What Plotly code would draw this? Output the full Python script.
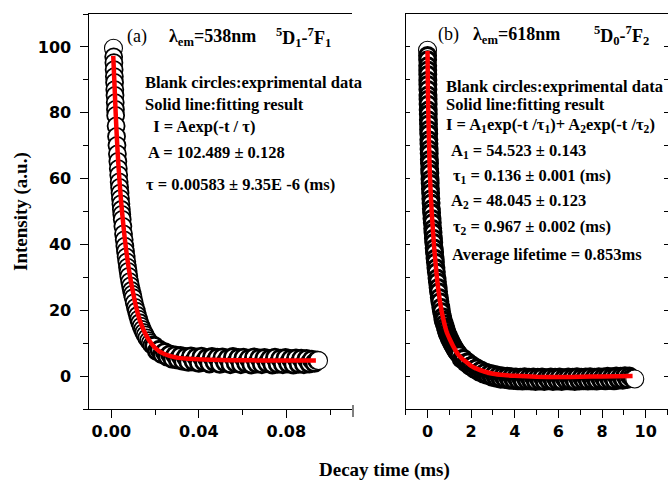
import plotly.graph_objects as go

# ---------------- data: panel (a) 538 nm ----------------
t_a = [0.0010, 0.0011, 0.0012, 0.0013, 0.0014, 0.0015, 0.0016, 0.0017, 0.0018, 0.0019,
       0.0020, 0.0022, 0.0024, 0.0026, 0.0028, 0.0030, 0.0032, 0.0034, 0.0036, 0.0038,
       0.0040, 0.0042, 0.0044, 0.0046, 0.0048, 0.0050, 0.0053, 0.0056, 0.0059, 0.0062,
       0.0065, 0.0068, 0.0071, 0.0074, 0.0077, 0.0080, 0.0084, 0.0088, 0.0092, 0.0096,
       0.0100, 0.0105, 0.0110, 0.0115, 0.0120, 0.0125, 0.0130, 0.0136, 0.0142, 0.0148,
       0.0155, 0.0162, 0.0170, 0.0178, 0.0186,
       0.0196, 0.0208, 0.0220, 0.0232, 0.0244, 0.0256, 0.0268, 0.0280, 0.0292, 0.0304,
       0.0316, 0.0328, 0.0340, 0.0352, 0.0364, 0.0376, 0.0388, 0.0400, 0.0412, 0.0424,
       0.0436, 0.0448, 0.0460, 0.0472, 0.0484, 0.0496, 0.0508, 0.0520, 0.0532, 0.0544,
       0.0556, 0.0568, 0.0580, 0.0592, 0.0604, 0.0616, 0.0628, 0.0640, 0.0652, 0.0664,
       0.0676, 0.0688, 0.0700, 0.0712, 0.0724, 0.0736, 0.0748, 0.0760, 0.0772, 0.0784,
       0.0796, 0.0808, 0.0820, 0.0832, 0.0844, 0.0856, 0.0868, 0.0880, 0.0892, 0.0904,
       0.0916, 0.0928, 0.0940, 0.0947]
i_a = [99.6, 97.0, 95.2, 93.1, 91.0, 89.2, 87.0, 85.3, 83.1, 81.0,
       79.2, 76.0, 72.8, 70.1, 67.5, 65.2, 63.0, 61.1, 59.0, 57.3,
       55.6, 53.9, 52.3, 50.6, 49.1, 47.6, 45.5, 43.2, 41.4, 39.5,
       37.9, 36.2, 34.7, 33.1, 31.8, 30.3, 28.7, 27.4, 26.0, 24.9,
       23.8, 22.3, 20.9, 19.7, 18.4, 17.3, 16.2, 15.2, 14.2, 13.3,
       12.5, 11.6, 10.8, 10.1, 9.4,
       9.2, 7.6, 8.0, 6.6, 7.3, 5.9, 6.6, 5.2, 6.3, 5.0,
       6.1, 4.6, 5.8, 4.3, 6.0, 4.4, 5.7, 4.0, 5.9, 4.3,
       5.5, 3.8, 5.8, 4.2, 5.6, 3.7, 5.7, 4.1, 5.4, 3.6,
       5.8, 4.0, 5.5, 3.6, 5.6, 3.9, 5.3, 3.5, 5.7, 3.8,
       5.4, 3.6, 5.5, 3.9, 5.2, 3.5, 5.6, 3.7, 5.3, 3.6,
       5.5, 3.8, 5.2, 3.5, 5.4, 3.7, 5.3, 3.6, 5.2, 3.8,
       5.0, 4.0, 4.8, 4.7]
t_fit_a = [0.0009, 0.0012, 0.0015, 0.0020, 0.0025, 0.0030, 0.0035, 0.0040, 0.0045, 0.0050,
           0.0060, 0.0070, 0.0080, 0.0090, 0.0100, 0.0110, 0.0120, 0.0130, 0.0140, 0.0150,
           0.0165, 0.0180, 0.0200, 0.0220, 0.0240, 0.0260, 0.0280, 0.0300, 0.0350, 0.0400,
           0.0500, 0.0600, 0.0700, 0.0800, 0.0935]
i_fit_a = [97.3, 92.5, 88.0, 80.0, 73.0, 67.0, 61.8, 57.2, 53.0, 49.3,
           42.8, 37.3, 32.6, 28.6, 25.2, 22.0, 19.3, 17.0, 15.2, 13.6,
           11.7, 10.2, 8.6, 7.5, 6.8, 6.3, 5.9, 5.6, 5.3, 5.1,
           4.9, 4.8, 4.75, 4.7, 4.7]

# ---------------- data: panel (b) 618 nm ----------------
t_b = [0.000, 0.003, 0.005, 0.008, 0.010, 0.012, 0.014, 0.016, 0.018, 0.021,
       0.024, 0.028, 0.032, 0.036, 0.040, 0.045, 0.050, 0.055, 0.061, 0.066,
       0.072, 0.078, 0.085, 0.091, 0.098, 0.106, 0.115, 0.123, 0.133, 0.142,
       0.153, 0.163, 0.176, 0.187, 0.205, 0.220, 0.238, 0.252, 0.270, 0.285,
       0.305, 0.322, 0.345, 0.362, 0.385, 0.405, 0.435, 0.455, 0.485, 0.505,
       0.540, 0.567, 0.610, 0.640, 0.690,
       0.72, 0.77, 0.82, 0.86, 0.90, 0.95, 1.00, 1.05, 1.10, 1.15,
       1.20, 1.25, 1.30, 1.35, 1.40,
       1.45, 1.55, 1.65, 1.75, 1.85, 1.95, 2.05, 2.15, 2.25, 2.35,
       2.45, 2.55, 2.65, 2.75, 2.85, 2.95, 3.05, 3.15, 3.25, 3.35,
       3.45, 3.55, 3.65, 3.75, 3.85, 3.95, 4.05, 4.15, 4.25, 4.35,
       4.45, 4.55, 4.65, 4.75, 4.85, 4.95, 5.05, 5.15, 5.25, 5.35,
       5.45, 5.55, 5.65, 5.75, 5.85, 5.95, 6.05, 6.15, 6.25, 6.35,
       6.45, 6.55, 6.65, 6.75, 6.85, 6.95, 7.05, 7.15, 7.25, 7.35,
       7.45, 7.55, 7.65, 7.75, 7.85, 7.95, 8.05, 8.15, 8.25, 8.35,
       8.45, 8.55, 8.65, 8.75, 8.85, 8.95, 9.05, 9.15, 9.25, 9.35,
       9.50]
i_b = [99.0, 97.4, 96.1, 94.3, 93.0, 91.6, 89.9, 88.6, 87.1, 85.4,
       84.1, 82.6, 80.8, 79.6, 77.9, 76.6, 74.9, 73.6, 71.8, 70.6,
       68.9, 67.6, 65.8, 64.6, 62.9, 61.6, 59.8, 58.6, 56.9, 55.6,
       53.9, 52.6, 50.8, 49.6, 47.9, 46.6, 44.8, 43.6, 41.9, 40.6,
       38.9, 37.6, 35.8, 34.6, 32.9, 31.6, 29.8, 28.6, 26.9, 25.6,
       23.9, 22.6, 20.9, 19.6, 18.0,
       17.0, 15.9, 14.9, 14.0, 13.1, 12.3, 11.5, 10.8, 10.1, 9.5,
       8.9, 8.3, 7.8, 7.3, 6.9,
       6.5, 5.2, 5.4, 4.1, 4.3, 3.0, 3.3, 2.1, 2.5, 1.3,
       1.8, 0.7, 1.2, 0.2, 0.8, -0.3, 0.5, -0.6, 0.2, -0.9,
       0.0, -1.0, -0.1, -1.2, -0.2, -1.3, -0.3, -1.4, -0.4, -1.5,
       -0.2, -1.4, -0.4, -1.5, -0.3, -1.6, -0.4, -1.5, -0.3, -1.6,
       -0.5, -1.4, -0.3, -1.6, -0.4, -1.5, -0.3, -1.6, -0.5, -1.4,
       -0.3, -1.5, -0.4, -1.6, -0.2, -1.5, -0.4, -1.4, -0.3, -1.5,
       -0.2, -1.4, -0.4, -1.5, -0.2, -1.3, -0.3, -1.4, -0.1, -1.3,
       -0.2, -1.4, 0.0, -1.2, -0.1, -1.2, 0.1, -1.0, 0.0, -0.6,
       -0.9]
t_fit_b = [0.00, 0.02, 0.05, 0.10, 0.15, 0.20, 0.30, 0.40, 0.50, 0.60,
           0.70, 0.80, 0.90, 1.00, 1.20, 1.40, 1.60, 1.80, 2.00, 2.30,
           2.60, 3.00, 3.50, 4.00, 5.00, 6.00, 7.00, 8.00, 9.40]
i_fit_b = [98.8, 86.0, 76.0, 63.0, 55.0, 49.0, 39.5, 32.0, 26.0, 21.5,
           18.0, 15.2, 13.0, 11.5, 8.8, 6.6, 5.2, 4.2, 3.1, 2.1,
           1.4, 0.7, 0.3, 0.1, -0.2, -0.3, -0.2, -0.1, 0.0]

x_ticks_a = [0, 0.04, 0.08]
x_ticktext_a = ["0.00", "0.04", "0.08"]
x_ticks_b = [0, 2, 4, 6, 8, 10]
y_ticks = [0, 20, 40, 60, 80, 100]

W, H = 668, 482
def px(x):
    return x / W
def py(y):
    return 1 - y / H

# outline widths: heavy overlapping outlines make the dense dark band,
# the first and last circles stay thin
n_steep_a = 55
lw_a = [1.1] + [1.8] * (n_steep_a - 1) + [2.8] * (len(t_a) - n_steep_a - 1) + [1.1]
sz_a = [18] + [17] * (len(t_a) - 2) + [18]
n_steep_b = 55
lw_b = [1.1] + [3.0] * (n_steep_b - 1) + [3.2] * (len(t_b) - n_steep_b - 1) + [1.1]
sz_b = [18] + [16] * (len(t_b) - 2) + [18]

fig = go.Figure()

fig.add_trace(go.Scatter(x=t_a, y=i_a, mode="markers",
                         marker=dict(symbol="circle", size=sz_a, color="white", opacity=1,
                                     line=dict(color="black", width=lw_a)),
                         xaxis="x", yaxis="y", showlegend=False))
fig.add_trace(go.Scatter(x=t_fit_a, y=i_fit_a, mode="lines",
                         line=dict(color="#ff0000", width=4.5, shape="spline", smoothing=0.6),
                         xaxis="x", yaxis="y", showlegend=False))
fig.add_trace(go.Scatter(x=t_b, y=i_b, mode="markers",
                         marker=dict(symbol="circle", size=sz_b, color="white", opacity=1,
                                     line=dict(color="black", width=lw_b)),
                         xaxis="x2", yaxis="y2", showlegend=False))
fig.add_trace(go.Scatter(x=t_fit_b, y=i_fit_b, mode="lines",
                         line=dict(color="#ff0000", width=4.5, shape="spline", smoothing=0.6),
                         xaxis="x2", yaxis="y2", showlegend=False))

tickfont = dict(family="DejaVu Sans", size=16, color="black", weight="bold")
ydom = [py(409), py(14)]
xdom_a = [px(89.4), px(352)]
xdom_b = [px(405.7), px(667.5)]

fig.update_layout(
    width=W, height=H,
    margin=dict(l=0, r=0, t=0, b=0),
    paper_bgcolor="white", plot_bgcolor="white",
    xaxis=dict(domain=xdom_a, range=[-0.01, 0.11], anchor="y",
               tickvals=x_ticks_a, ticktext=x_ticktext_a, ticks="outside",
               ticklen=8, tickwidth=1, tickcolor="black",
               minor=dict(tick0=0, dtick=0.02, ticks="outside", ticklen=5, tickcolor="black", showgrid=False),
               showline=True, linecolor="black", linewidth=1, mirror=True,
               showgrid=False, zeroline=False, tickfont=tickfont),
    yaxis=dict(domain=ydom, range=[-10, 110], anchor="x",
               tickvals=y_ticks, ticks="outside", ticklen=8, tickwidth=1, tickcolor="black",
               minor=dict(tick0=-10, dtick=10, ticks="outside", ticklen=5, tickcolor="black", showgrid=False),
               showline=True, linecolor="black", linewidth=1,
               showgrid=False, zeroline=False, tickfont=tickfont, ticklabelstandoff=6),
    xaxis2=dict(domain=xdom_b, range=[-1, 11], anchor="y2",
                tickvals=x_ticks_b, ticks="outside", ticklen=8, tickwidth=1, tickcolor="black",
                minor=dict(tick0=-1, dtick=1, ticks="outside", ticklen=5, tickcolor="black", showgrid=False),
                showline=True, linecolor="black", linewidth=1, mirror=True,
                showgrid=False, zeroline=False, tickfont=tickfont),
    yaxis2=dict(domain=ydom, range=[-10, 110], anchor="x2",
                tick0=0, dtick=10, ticks="inside", ticklen=4, tickwidth=1, tickcolor="black",
                showticklabels=False, showline=True, linecolor="black", linewidth=1,
                mirror="ticks", showgrid=False, zeroline=False),
    xaxis3=dict(domain=xdom_a, range=[-0.01, 0.11], overlaying="x", side="top", anchor="y",
                tick0=0, dtick=0.02, ticks="inside", ticklen=3, tickcolor="black",
                showticklabels=False, showline=False, showgrid=False, zeroline=False),
    xaxis4=dict(domain=xdom_b, range=[-1, 11], overlaying="x2", side="top", anchor="y2",
                tick0=0, dtick=1, ticks="inside", ticklen=3, tickcolor="black",
                showticklabels=False, showline=False, showgrid=False, zeroline=False),
)

# small end tick at right end of panel (a) x axis
fig.add_shape(type="line", xref="paper", yref="paper",
              x0=px(353), x1=px(353), y0=py(405), y1=py(417),
              line=dict(color="black", width=1))

serif = "Liberation Serif"
def note(x, y, text, size=16.5, bold=True):
    fig.add_annotation(xref="paper", yref="paper", x=px(x), y=py(y),
                       text=("<b>%s</b>" % text) if bold else text,
                       showarrow=False, xanchor="left", yanchor="middle",
                       font=dict(family=serif, size=size, color="black"))

# panel (a) texts
note(125, 37, "(a)", size=18, bold=False)
note(167, 38, "λ<sub>em</sub>=538nm", size=18)
note(274, 38, "<sup>5</sup>D<sub>1</sub>-<sup>7</sup>F<sub>1</sub>", size=18)
note(143, 82, "Blank circles:exprimental data")
note(143, 104, "Solid line:fitting result")
note(147, 127, " I = Aexp(-t / τ)")
note(146, 152, "A = 102.489 ± 0.128")
note(144, 185, "τ = 0.00583 ± 9.35E -6 (ms)")

# panel (b) texts
note(436, 35, "(b)", size=18, bold=False)
note(471, 36, "λ<sub>em</sub>=618nm", size=18)
note(592, 36, "<sup>5</sup>D<sub>0</sub>-<sup>7</sup>F<sub>2</sub>", size=18)
note(444, 86, "Blank circles:exprimental data")
note(444, 104, "Solid line:fitting result")
note(444, 125, "I = A<sub>1</sub>exp(-t /τ<sub>1</sub>)+ A<sub>2</sub>exp(-t /τ<sub>2</sub>)")
note(449, 151, "A<sub>1</sub> = 54.523 ± 0.143")
note(451, 176, "τ<sub>1</sub> = 0.136 ± 0.001 (ms)")
note(449, 201, "A<sub>2</sub> = 48.045 ± 0.123")
note(451, 227, "τ<sub>2</sub> = 0.967 ± 0.002 (ms)")
note(450, 254, "Average lifetime = 0.853ms")

# axis titles
fig.add_annotation(xref="paper", yref="paper", x=px(384), y=py(470),
                   text="<b>Decay time (ms)</b>", showarrow=False,
                   xanchor="center", yanchor="middle",
                   font=dict(family=serif, size=19, color="black"))
fig.add_annotation(xref="paper", yref="paper", x=px(21), y=py(212),
                   text="<b>Intensity (a.u.)</b>", showarrow=False, textangle=-90,
                   xanchor="center", yanchor="middle",
                   font=dict(family=serif, size=19, color="black"))

fig.write_html("out.html")
